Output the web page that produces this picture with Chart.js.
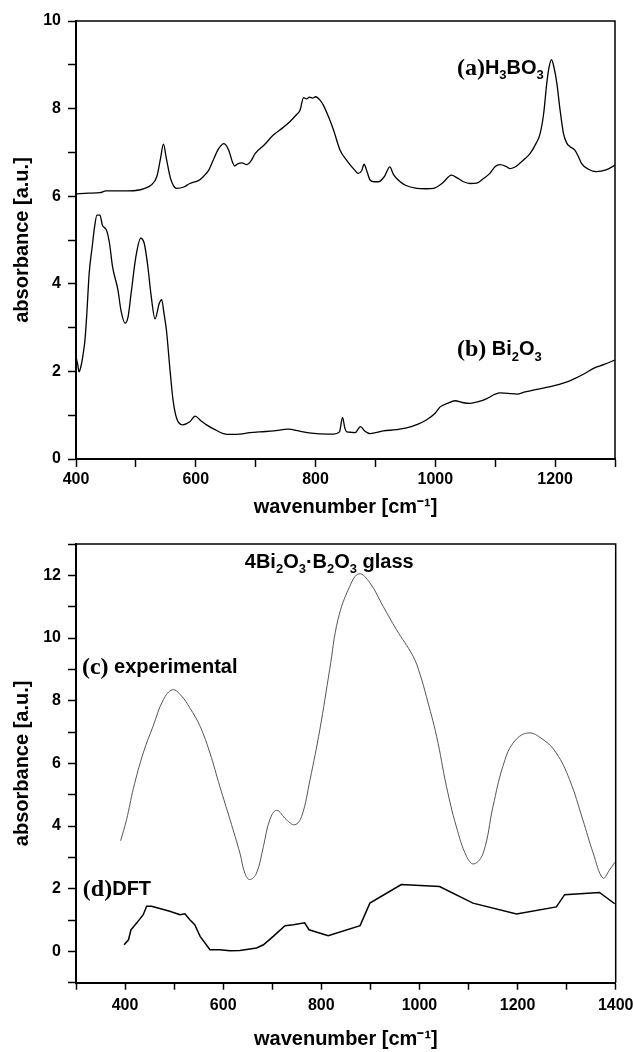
<!DOCTYPE html>
<html>
<head>
<meta charset="utf-8">
<script src="https://cdn.jsdelivr.net/npm/chart.js@4.4.0/dist/chart.umd.min.js"></script>
<style>
  html, body { margin: 0; padding: 0; background: #fff; }
  #wrapA { position: absolute; left: 0; top: 0; width: 633px; height: 520px; }
  #wrapB { position: absolute; left: 0; top: 520px; width: 633px; height: 532px; }
</style>
</head>
<body>
<div id="wrapA"><canvas id="chartA" width="633" height="520"></canvas></div>
<div id="wrapB"><canvas id="chartB" width="633" height="532"></canvas></div>
<script>
// ---------- DATA ----------
// Panel 1 — (a) H3BO3
const h3bo3Wave = [400,420,440,450,480,500,515,525,535,541,546,551,558,568,580,590,605,612,622,629,638,647,655,662,665,670,677,685,692,699,715,729,745,757,768,774,780,785,790,795,800,807,813,822,830,841,852,865,871,877,881,885,891,898,905,915,924,930,938,950,969,985,997,1012,1027,1035,1047,1058,1069,1080,1091,1100,1108,1118,1125,1132,1141,1150,1158,1168,1175,1181,1186,1190,1194,1198,1203,1208,1214,1220,1225,1233,1240,1244,1255,1269,1285,1300];
const h3bo3Abs  = [6.05,6.07,6.08,6.12,6.12,6.13,6.18,6.25,6.45,6.85,7.19,6.85,6.40,6.18,6.21,6.29,6.36,6.44,6.60,6.82,7.08,7.20,7.05,6.75,6.69,6.74,6.76,6.72,6.80,6.97,7.18,7.39,7.56,7.70,7.86,7.96,8.25,8.22,8.26,8.24,8.27,8.20,8.08,7.80,7.51,7.05,6.82,6.60,6.52,6.58,6.73,6.60,6.37,6.33,6.33,6.45,6.67,6.50,6.37,6.25,6.18,6.17,6.18,6.30,6.48,6.43,6.33,6.29,6.30,6.40,6.52,6.68,6.72,6.68,6.63,6.66,6.75,6.86,6.97,7.20,7.43,7.90,8.57,8.95,9.12,8.95,8.57,8.00,7.43,7.20,7.13,7.05,6.87,6.75,6.62,6.56,6.60,6.71];
// Panel 1 — (b) Bi2O3
const bi2o3Wave = [400,403,405,408,412,415,418,422,427,431,435,440,444,451,456,461,470,475,482,487,492,500,508,514,520,525,532,539,543,547,551,557,562,568,578,590,599,608,618,632,646,660,674,690,707,730,754,775,802,830,840,845,849,852,860,866,875,882,891,913,935,952,970,985,1000,1008,1020,1033,1045,1058,1072,1086,1100,1108,1122,1136,1150,1163,1180,1197,1215,1230,1248,1264,1282,1300];
const bi2o3Abs  = [2.33,2.15,1.99,2.10,2.40,2.72,3.30,4.24,4.84,5.30,5.57,5.57,5.34,5.22,4.92,4.39,3.86,3.40,3.10,3.25,3.78,4.62,5.04,4.92,4.39,3.78,3.20,3.55,3.64,3.32,2.94,2.03,1.35,0.93,0.78,0.85,0.98,0.88,0.78,0.67,0.58,0.56,0.57,0.60,0.62,0.64,0.68,0.63,0.58,0.57,0.62,0.95,0.70,0.62,0.61,0.60,0.74,0.64,0.58,0.64,0.67,0.71,0.79,0.89,1.05,1.19,1.27,1.33,1.29,1.27,1.31,1.38,1.48,1.51,1.50,1.48,1.53,1.57,1.62,1.67,1.74,1.82,1.94,2.07,2.16,2.26];
// Panel 2 — (c) experimental
const expWave = [391,403,417,437,457,478,497,515,532,553,573,593,614,634,644,654,668,682,695,709,729,746,760,777,797,817,834,858,877,899,926,953,987,1001,1014,1035,1055,1075,1096,1111,1130,1150,1170,1191,1221,1252,1279,1306,1333,1354,1374,1388,1398];
const expAbs  = [3.53,4.20,5.20,6.33,7.18,8.03,8.35,8.15,7.77,7.18,6.33,5.27,4.20,3.14,2.50,2.29,2.50,3.35,4.20,4.50,4.20,4.04,4.31,5.48,7.08,8.99,10.59,11.65,12.05,11.76,11.01,10.27,9.42,8.85,8.14,6.86,5.27,3.99,3.03,2.79,3.14,4.63,5.90,6.65,6.97,6.76,6.33,5.48,4.20,3.14,2.34,2.61,2.84];
// Panel 2 — (d) DFT
const dftWave = [398,407,412,424,437,444,454,491,512,522,532,542,553,573,593,614,634,668,682,702,726,743,766,775,814,879,899,963,1041,1109,1198,1279,1296,1367,1398];
const dftAbs  = [0.21,0.37,0.69,0.91,1.17,1.44,1.44,1.28,1.17,1.20,1.01,0.85,0.48,0.05,0.05,0.02,0.03,0.11,0.21,0.48,0.82,0.85,0.91,0.69,0.50,0.82,1.54,2.13,2.07,1.54,1.19,1.42,1.81,1.88,1.52];

// Axis ranges / tick labels
const topXRange = [400, 1300];
const topYRange = [0, 10];
const topXLabels = [400, 600, 800, 1000, 1200];
const topYLabels = [0, 2, 4, 6, 8, 10];
const botXRange = [300, 1400];
const botYRange = [-1, 13];
const botXLabels = [400, 600, 800, 1000, 1200, 1400];
const botYLabels = [0, 2, 4, 6, 8, 10, 12];

const xTitle = 'wavenumber [cm\u207B\u00B9]';
const yTitle = 'absorbance [a.u.]';

// Annotation anchors (data coordinates)
const annotTop = [
  { x: 1036, y: 8.92, parts: [['(a)', 'serif'], ['H', 'sans'], ['3', 'sub'], ['BO', 'sans'], ['3', 'sub']] },
  { x: 1036, y: 2.49, parts: [['(b)', 'serif'], [' Bi', 'sans'], ['2', 'sub'], ['O', 'sans'], ['3', 'sub']] }
];
const annotBot = [
  { x: 644, y: 12.4, parts: [['4Bi', 'sans'], ['2', 'sub'], ['O', 'sans'], ['3', 'sub'], ['\u00B7B', 'sans'], ['2', 'sub'], ['O', 'sans'], ['3', 'sub'], [' glass', 'sans']] },
  { x: 312, y: 9.05, parts: [['(c)', 'serif'], [' experimental', 'sans']] },
  { x: 314, y: 1.97, parts: [['(d)', 'serif'], ['DFT', 'sans']] }
];

// ---------- rendering ----------
const SANS = '"Liberation Sans", Arial, Helvetica, sans-serif';
const SERIF = '"Liberation Serif", "Times New Roman", serif';
const fontFor = {
  serif: { f: 'bold 24px ' + SERIF, dy: 0 },
  sans:  { f: 'bold 20px ' + SANS, dy: 0 },
  sub:   { f: 'bold 13px ' + SANS, dy: 7 }
};

function pts(xs, ys) { return xs.map((x, i) => ({ x: x, y: ys[i] })); }

const framePlugin = {
  id: 'frame',
  afterDraw(chart, args, opts) {
    const ctx = chart.ctx, a = chart.chartArea;
    ctx.save();
    ctx.strokeStyle = '#000';
    ctx.lineWidth = 1.5;
    ctx.beginPath();
    ctx.moveTo(a.left, a.top);
    ctx.lineTo(a.right, a.top);
    ctx.lineTo(a.right, a.bottom);
    ctx.stroke();
    // annotations
    ctx.fillStyle = '#000';
    ctx.textBaseline = 'middle';
    ctx.textAlign = 'left';
    for (const an of (opts.items || [])) {
      let cx = chart.scales.x.getPixelForValue(an.x);
      const cy = chart.scales.y.getPixelForValue(an.y);
      for (const [t, k] of an.parts) {
        ctx.font = fontFor[k].f;
        ctx.fillText(t, cx, cy + fontFor[k].dy);
        cx += ctx.measureText(t).width;
      }
    }
    ctx.restore();
  }
};

function makeChart(id, cfg) {
  const tickFont = { family: SANS, size: 16, weight: 'bold' };
  const titleFont = { family: SANS, size: 20, weight: 'bold' };
  return new Chart(document.getElementById(id), {
    type: 'line',
    data: { datasets: cfg.datasets },
    options: {
      responsive: false,
      animation: false,
      events: [],
      layout: { padding: cfg.padding },
      plugins: { legend: { display: false }, tooltip: { enabled: false }, frame: { items: cfg.annot } },
      elements: { point: { radius: 0 } },
      scales: {
        x: {
          type: 'linear', min: cfg.xRange[0], max: cfg.xRange[1],
          border: { display: true, color: '#000', width: 2 },
          grid: { display: true, drawOnChartArea: false, drawTicks: true, tickLength: cfg.xTickLen, tickWidth: 1.5, tickColor: '#000' },
          ticks: {
            stepSize: 100, autoSkip: false, maxRotation: 0, color: '#000', font: tickFont, padding: cfg.xTickPad,
            callback: v => cfg.xLabels.includes(v) ? String(v) : ''
          },
          title: { display: true, text: xTitle, color: '#000', font: titleFont, padding: { top: 0, bottom: cfg.xTitlePad } },
          afterFit: s => { s.height = cfg.xAxisH; s.paddingLeft = 0; s.paddingRight = 0; }
        },
        y: {
          type: 'linear', min: cfg.yRange[0], max: cfg.yRange[1],
          border: { display: true, color: '#000', width: 2 },
          grid: { display: true, drawOnChartArea: false, drawTicks: true, tickLength: 8, tickWidth: 1.5, tickColor: '#000' },
          ticks: {
            stepSize: 1, autoSkip: false, color: '#000', font: tickFont, padding: 7,
            callback: v => cfg.yLabels.includes(v) ? String(v) : ''
          },
          title: { display: true, text: yTitle, color: '#000', font: titleFont, padding: { top: 10, bottom: 0 } },
          afterFit: s => { s.width = 76; s.paddingTop = 0; s.paddingBottom = 0; }
        }
      }
    },
    plugins: [framePlugin]
  });
}

makeChart('chartA', {
  datasets: [
    { data: pts(h3bo3Wave, h3bo3Abs), borderColor: '#000', borderWidth: 1.3, tension: 0.3, cubicInterpolationMode: 'monotone', fill: false },
    { data: pts(bi2o3Wave, bi2o3Abs), borderColor: '#000', borderWidth: 1.3, tension: 0.3, cubicInterpolationMode: 'monotone', fill: false }
  ],
  xRange: topXRange, yRange: topYRange, xLabels: topXLabels, yLabels: topYLabels,
  padding: { left: 0, right: 18, top: 21, bottom: 0 },
  xAxisH: 61, xTickLen: 8, xTickPad: 3, xTitlePad: 1,
  annot: annotTop
});

makeChart('chartB', {
  datasets: [
    { data: pts(expWave, expAbs), borderColor: '#555', borderWidth: 1, tension: 0.4, cubicInterpolationMode: 'default', fill: false },
    { data: pts(dftWave, dftAbs), borderColor: '#000', borderWidth: 1.5, tension: 0, fill: false }
  ],
  xRange: botXRange, yRange: botYRange, xLabels: botXLabels, yLabels: botYLabels,
  padding: { left: 0, right: 17.3, top: 24, bottom: 0 },
  xAxisH: 69.3, xTickLen: 7, xTickPad: 6, xTitlePad: 1,
  annot: annotBot
});
</script>
</body>
</html>
